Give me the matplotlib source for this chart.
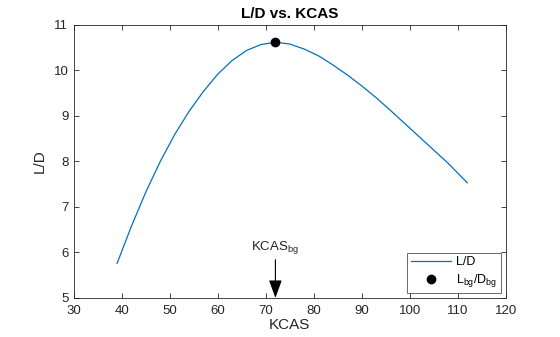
import numpy as np
import matplotlib.pyplot as plt

plt.rcParams['font.family'] = ['Liberation Sans', 'DejaVu Sans']
plt.rcParams['mathtext.fontset'] = 'custom'
plt.rcParams['mathtext.rm'] = 'Liberation Sans'
plt.rcParams['mathtext.it'] = 'Liberation Sans'

# lift-to-drag ratio over calibrated airspeed
kcas = [39, 42, 45, 48, 51, 54, 57, 60, 63, 66, 69, 72, 75, 78, 81, 84,
        87, 90, 93, 96, 99, 102, 105, 108, 112]
ld = [5.76, 6.58, 7.33, 8.00, 8.59, 9.10, 9.54, 9.92, 10.22, 10.44, 10.57,
      10.62, 10.58, 10.47, 10.32, 10.12, 9.90, 9.66, 9.40, 9.12, 8.83, 8.54,
      8.25, 7.96, 7.53]

kcas_bg = 72.0
ld_bg = 10.62

AX_COLOR = '#262626'
LINE_COLOR = '#0072BD'

fig = plt.figure(figsize=(5.6, 3.37), dpi=100)
ax = fig.add_axes([0.132, 0.116, 0.771, 0.810])

ax.plot(kcas, ld, color=LINE_COLOR, lw=0.9, label='L/D')
ax.plot(kcas_bg, ld_bg, 'o', color='black', markersize=6,
        label=r'L$_{\mathrm{bg}}$/D$_{\mathrm{bg}}$')

ax.annotate('', xy=(kcas_bg, 5.0), xytext=(kcas_bg, 5.84),
            arrowprops=dict(arrowstyle='-|>,head_length=0.55,head_width=0.2',
                            color='black', lw=0.8, mutation_scale=20,
                            shrinkA=0, shrinkB=0))
ax.text(kcas_bg, 5.93, r'KCAS$_{\mathrm{bg}}$', ha='center', va='bottom',
        fontsize=9.5, color=AX_COLOR)

ax.set_xlim(30, 120)
ax.set_ylim(5, 11)
ax.set_xticks(np.arange(30, 121, 10))
ax.set_yticks(np.arange(5, 12, 1))
ax.tick_params(direction='in', top=True, right=True, length=3.5, width=0.6,
               labelsize=9.5, colors=AX_COLOR)
ax.tick_params(axis='x', pad=5)
ax.tick_params(axis='y', pad=4)
for s in ax.spines.values():
    s.set_color(AX_COLOR)
    s.set_linewidth(0.6)

ax.set_xlabel('KCAS', fontsize=11, color=AX_COLOR, labelpad=1)
ax.set_ylabel('L/D', fontsize=11, color=AX_COLOR, labelpad=5)
ax.set_title('L/D vs. KCAS', fontsize=11, fontweight='bold', color='black', pad=5)

leg = ax.legend(loc='lower right', fontsize=9, frameon=True, fancybox=False,
                borderpad=0.3, handlelength=3.2, labelspacing=0.3,
                borderaxespad=0.4, handletextpad=0.4)
leg.get_frame().set_edgecolor(AX_COLOR)
leg.get_frame().set_linewidth(0.6)

fig.savefig('out.png', dpi=100)
